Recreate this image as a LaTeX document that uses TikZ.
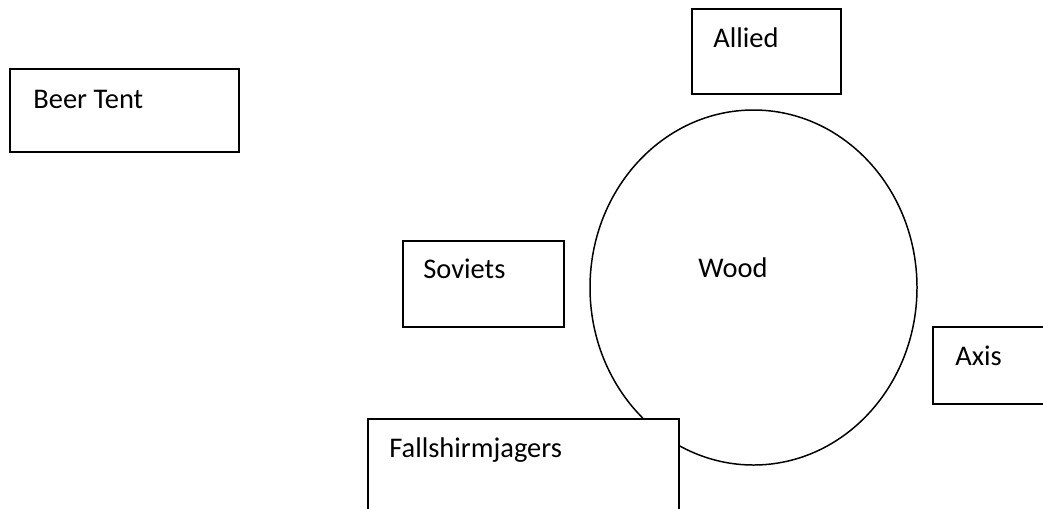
\documentclass[tikz,border=0pt]{standalone}
\usepackage{fontspec}
\setmainfont{Carlito}
\usepackage{tikz}

\tikzset{
  box/.style={draw=black, fill=white, line width=1.1pt},
  lbl/.style={anchor=base west, inner sep=0pt, font=\fontsize{16.2}{19}\selectfont}
}

\begin{document}
\begin{tikzpicture}[x=0.02cm, y=-0.02cm, line join=miter]
\useasboundingbox (0,0) rectangle (1043,508);
\clip (0,0) rectangle (1043,508);
% wood in the middle
\draw[line width=0.85pt] (753.5,287.5) ellipse [x radius=163.5, y radius=177.5];
\node[lbl] (wood) at (698,277) {Wood};
% boxes round it
\draw[box] (10,69) rectangle (239,152);
\node[lbl] (beertent) at (33,108) {Beer Tent};
\draw[box] (692,9) rectangle (841,94);
\node[lbl] (allied) at (713,47) {Allied};
\draw[box] (403,241) rectangle (564,327);
\node[lbl] (soviets) at (423,278) {Soviets};
\draw[box] (933,327) rectangle (1060,404);
\node[lbl] (axis) at (955,365) {Axis};
\draw[box] (368,419) rectangle (679,530);
\node[lbl] (fallshirm) at (389,457) {Fallshirmjagers};
\end{tikzpicture}
\end{document}
